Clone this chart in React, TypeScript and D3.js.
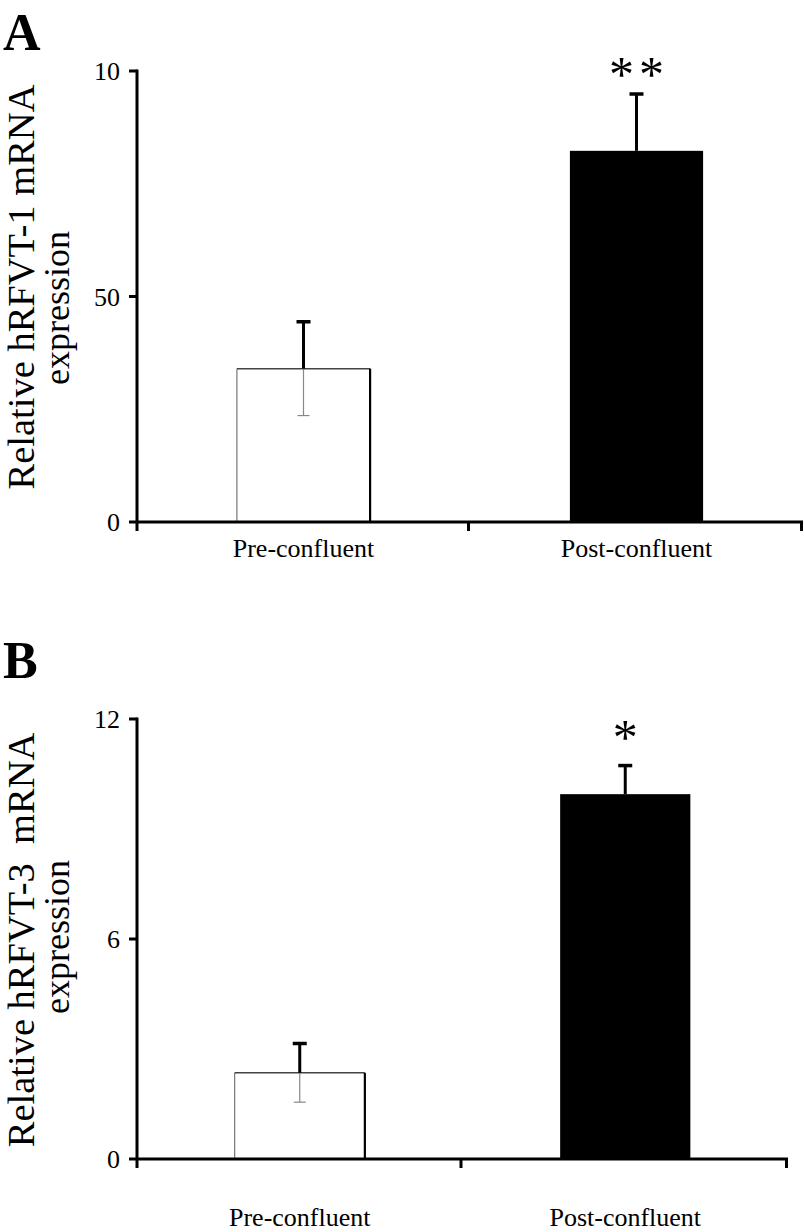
import React from "react";
import * as d3 from "d3";

const categories = ["Pre-confluent", "Post-confluent"];

const meansA = [34, 82.3];
const errA = [10.4, 12.6];
const sigA = ["", "**"];
const ticksA = [0, 50, 100];
const tickLabelsA = ["0", "50", "10"];

const meansB = [2.35, 9.95];
const errB = [0.8, 0.78];
const sigB = ["", "*"];
const ticksB = [0, 6, 12];
const tickLabelsB = ["0", "6", "12"];

const FONT = "'Liberation Serif', 'Times New Roman', serif";

type PanelProps = {
  letter: string;
  letterY: number;
  means: number[];
  errs: number[];
  sigs: string[];
  ticks: number[];
  tickLabels: string[];
  yMax: number;
  yTop: number;
  yBottom: number;
  xLeft: number;
  xRight: number;
  label1: string;
  label2: string;
  labelCenter: number;
  label2Center: number;
  sigOffset: number;
  sigSize: number;
  catY: number;
};

function Panel(p: PanelProps) {
  const y = d3.scaleLinear().domain([0, p.yMax]).range([p.yBottom, p.yTop]);
  const x = d3.scaleBand<string>().domain(categories).range([p.xLeft, p.xRight]);
  const bw = x.bandwidth() * 0.4;
  const bounds = [p.xLeft, ...categories.map((c) => (x(c) as number) + x.bandwidth())];
  const spacing = 5;
  return (
    <g>
      <text x={3} y={p.letterY} fontFamily={FONT} fontWeight="bold" fontSize={52}>
        {p.letter}
      </text>
      <g transform={`translate(34,${p.labelCenter}) rotate(-90)`}>
        <text x={0} y={0} textAnchor="middle" fontFamily={FONT} fontSize={38.5} style={{ whiteSpace: "pre" }}>
          {p.label1}
        </text>
      </g>
      <g transform={`translate(69,${p.label2Center}) rotate(-90)`}>
        <text x={0} y={0} textAnchor="middle" fontFamily={FONT} fontSize={36}>
          {p.label2}
        </text>
      </g>
      {categories.map((c, i) => {
        const cx = (x(c) as number) + x.bandwidth() / 2;
        const x0 = cx - bw / 2;
        const x1 = cx + bw / 2;
        const yt = y(p.means[i]);
        const yb = y(0);
        const dark = i === 1;
        const yUp = y(p.means[i] + p.errs[i]);
        const yLo = y(p.means[i] - p.errs[i]);
        return (
          <g key={c}>
            {dark ? (
              <rect x={x0} y={yt} width={bw} height={yb - yt} fill="#000" />
            ) : (
              <g>
                <rect x={x0} y={yt} width={bw} height={yb - yt} fill="#fff" />
                <line x1={x0} x2={x0} y1={yt} y2={yb} stroke="#777" strokeWidth={1.2} />
                <line x1={x0} x2={x1} y1={yt} y2={yt} stroke="#444" strokeWidth={1.5} />
                <line x1={x1} x2={x1} y1={yt} y2={yb} stroke="#000" strokeWidth={2.2} />
                <line x1={cx} x2={cx} y1={yt} y2={yLo} stroke="#888" strokeWidth={1.2} />
                <line x1={cx - 6} x2={cx + 6} y1={yLo} y2={yLo} stroke="#888" strokeWidth={1.2} />
              </g>
            )}
            <line x1={cx} x2={cx} y1={yt} y2={yUp} stroke="#000" strokeWidth={3} />
            <line x1={cx - 7} x2={cx + 7} y1={yUp} y2={yUp} stroke="#000" strokeWidth={3.5} />
            {p.sigs[i] && (
              <text
                x={cx + (p.sigs[i].length > 1 ? spacing / 2 : 0)}
                y={yUp - p.sigOffset}
                textAnchor="middle"
                fontFamily={FONT}
                fontSize={p.sigSize}
                letterSpacing={p.sigs[i].length > 1 ? spacing : 0}
              >
                {p.sigs[i]}
              </text>
            )}
            <text x={cx} y={p.catY} textAnchor="middle" fontFamily={FONT} fontSize={26}>
              {c}
            </text>
          </g>
        );
      })}
      {/* y axis */}
      <line x1={p.xLeft} x2={p.xLeft} y1={p.yTop - 1.5} y2={p.yBottom + 9} stroke="#000" strokeWidth={3} />
      {p.ticks.map((t, i) => (
        <g key={t}>
          <line x1={p.xLeft - 8} x2={p.xLeft} y1={y(t)} y2={y(t)} stroke="#000" strokeWidth={3} />
          <text x={p.xLeft - 17} y={y(t)} dy="0.35em" textAnchor="end" fontFamily={FONT} fontSize={26}>
            {p.tickLabels[i]}
          </text>
        </g>
      ))}
      {/* x axis */}
      <line x1={p.xLeft} x2={p.xRight} y1={p.yBottom} y2={p.yBottom} stroke="#000" strokeWidth={3} />
      {bounds.slice(1).map((b, i) => (
        <line key={i} x1={b - 1.5} x2={b - 1.5} y1={p.yBottom} y2={p.yBottom + 9} stroke="#000" strokeWidth={3} />
      ))}
    </g>
  );
}

export default function App() {
  return (
    <svg width={804} height={1232} style={{ position: "absolute", left: 0, top: 0, background: "#fff" }}>
      <rect width={804} height={1232} fill="#fff" />
      <Panel
        letter="A"
        letterY={50}
        means={meansA}
        errs={errA}
        sigs={sigA}
        ticks={ticksA}
        tickLabels={tickLabelsA}
        yMax={100}
        yTop={71}
        yBottom={522}
        xLeft={137}
        xRight={803}
        label1="Relative hRFVT-1 mRNA"
        label2="expression"
        labelCenter={287}
        label2Center={308}
        sigOffset={3}
        sigSize={50}
        catY={557}
      />
      <Panel
        letter="B"
        letterY={678}
        means={meansB}
        errs={errB}
        sigs={sigB}
        ticks={ticksB}
        tickLabels={tickLabelsB}
        yMax={12}
        yTop={719}
        yBottom={1159}
        xLeft={137}
        xRight={788}
        label1={"Relative hRFVT-3  mRNA"}
        label2="expression"
        labelCenter={940}
        label2Center={937}
        sigOffset={12}
        sigSize={50}
        catY={1226}
      />
    </svg>
  );
}
